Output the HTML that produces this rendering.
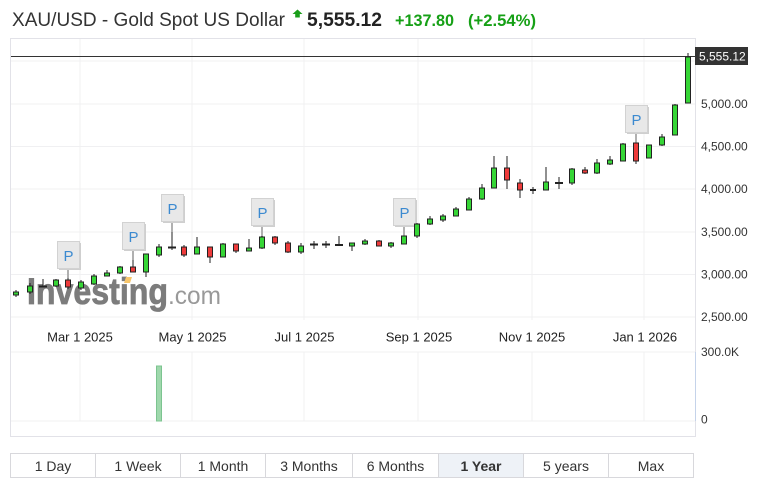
<!DOCTYPE html>
<html><head><meta charset="utf-8"><style>
html,body{margin:0;padding:0;background:#fff;}
svg{display:block;font-family:"Liberation Sans",Arial,sans-serif;}
.w{stroke:#222;stroke-width:1;}
.g{fill:#36d636;stroke:#222;stroke-width:1;}
.r{fill:#ee3b3b;stroke:#222;stroke-width:1;}
.k{stroke:#222;stroke-width:1.6;}
.grid{stroke:#f0f0f2;stroke-width:1;}
.ax{font-size:12px;fill:#333;}
.xl{font-size:13px;fill:#222;}
.pb{fill:#e8e8e8;stroke:#d2d2d2;stroke-width:1;}
.ps{fill:#cfcfcf;}
.pt{font-size:15px;fill:#3c8ad0;text-anchor:middle;}
.st{stroke:#b0b0b0;stroke-width:2;}
.bt{font-size:14px;fill:#333;text-anchor:middle;}
</style></head><body>
<svg width="772" height="489" viewBox="0 0 772 489" xmlns="http://www.w3.org/2000/svg">
<rect x="0" y="0" width="772" height="489" fill="#fff"/>
<!-- header -->
<text x="12" y="26" font-size="19" fill="#333" textLength="273" lengthAdjust="spacingAndGlyphs">XAU/USD - Gold Spot US Dollar</text>
<polygon points="297.5,9.5 302.5,14 299.8,14 299.8,17.5 295.2,17.5 295.2,14 292.5,14" fill="#1a9e1a"/>
<text x="307" y="26" font-size="19" font-weight="bold" fill="#222" textLength="75" lengthAdjust="spacingAndGlyphs">5,555.12</text>
<text x="395" y="26" font-size="17" font-weight="bold" fill="#16a016" textLength="59" lengthAdjust="spacingAndGlyphs">+137.80</text>
<text x="468" y="26" font-size="17" font-weight="bold" fill="#16a016" textLength="68" lengthAdjust="spacingAndGlyphs">(+2.54%)</text>

<!-- grid price -->
<g class="grid" shape-rendering="crispEdges">
<line x1="11" y1="61" x2="695" y2="61"/>
<line x1="11" y1="104" x2="695" y2="104"/>
<line x1="11" y1="146.5" x2="695" y2="146.5"/>
<line x1="11" y1="189" x2="695" y2="189"/>
<line x1="11" y1="232" x2="695" y2="232"/>
<line x1="11" y1="274.5" x2="695" y2="274.5"/>
<line x1="11" y1="317" x2="695" y2="317"/>
<line x1="80" y1="39" x2="80" y2="320"/>
<line x1="192" y1="39" x2="192" y2="320"/>
<line x1="304" y1="39" x2="304" y2="320"/>
<line x1="418" y1="39" x2="418" y2="320"/>
<line x1="532" y1="39" x2="532" y2="320"/>
<line x1="644" y1="39" x2="644" y2="320"/>
<!-- volume grid -->
<line x1="11" y1="352" x2="695" y2="352"/>
<line x1="11" y1="421" x2="695" y2="421"/>
<line x1="80" y1="352" x2="80" y2="421"/>
<line x1="192" y1="352" x2="192" y2="421"/>
<line x1="304" y1="352" x2="304" y2="421"/>
<line x1="418" y1="352" x2="418" y2="421"/>
<line x1="532" y1="352" x2="532" y2="421"/>
<line x1="644" y1="352" x2="644" y2="421"/>
</g>
<!-- frame -->
<rect x="10.5" y="38.5" width="685" height="398" fill="none" stroke="#e2e2e8" stroke-width="1"/>
<line x1="695.5" y1="352" x2="695.5" y2="421" stroke="#c5d3ea" stroke-width="1"/>

<!-- watermark -->
<text x="27" y="304" font-size="37" font-weight="bold" fill="#7c7c7c" stroke="#7c7c7c" stroke-width="0.8" textLength="141" lengthAdjust="spacingAndGlyphs">Investing</text>
<text x="168" y="304" font-size="25" fill="#999" textLength="53" lengthAdjust="spacingAndGlyphs">.com</text>
<polygon points="126,277 132,277 130,283 124,283" fill="#f7c66b"/>

<!-- current price line -->
<line x1="11" y1="56.5" x2="695" y2="56.5" stroke="#333" stroke-width="1"/>

<!-- P markers -->
<g>
<line class="st" x1="68" y1="269" x2="68" y2="278"/>
<rect class="ps" x="59" y="243" width="22" height="27"/>
<rect class="pb" x="57.5" y="241.5" width="22" height="27"/>
<text class="pt" x="68.5" y="261">P</text>

<line class="st" x1="133" y1="250" x2="133" y2="260"/>
<rect class="ps" x="124" y="224" width="22" height="27"/>
<rect class="pb" x="122.5" y="222.5" width="22" height="27"/>
<text class="pt" x="133.5" y="242">P</text>

<line class="st" x1="172" y1="222" x2="172" y2="232"/>
<rect class="ps" x="163" y="196" width="22" height="27"/>
<rect class="pb" x="161.5" y="194.5" width="22" height="27"/>
<text class="pt" x="172.5" y="214">P</text>

<line class="st" x1="262" y1="226" x2="262" y2="237"/>
<rect class="ps" x="253" y="200" width="22" height="27"/>
<rect class="pb" x="251.5" y="198.5" width="22" height="27"/>
<text class="pt" x="262.5" y="218">P</text>

<line class="st" x1="404" y1="226" x2="404" y2="236"/>
<rect class="ps" x="395" y="200" width="22" height="27"/>
<rect class="pb" x="393.5" y="198.5" width="22" height="27"/>
<text class="pt" x="404.5" y="218">P</text>

<line class="st" x1="636" y1="132" x2="636" y2="143"/>
<rect class="ps" x="627" y="107" width="22" height="27"/>
<rect class="pb" x="625.5" y="105.5" width="22" height="27"/>
<text class="pt" x="636.5" y="125">P</text>
</g>

<!-- candles -->
<g shape-rendering="crispEdges">
<line class="w" x1="16" y1="290" x2="16" y2="297"/><rect class="g" x="13.5" y="292" width="5" height="3"/>
<line class="w" x1="30" y1="283" x2="30" y2="294"/><rect class="g" x="27.5" y="286" width="5" height="6"/>
<line class="w" x1="43" y1="279" x2="43" y2="287"/><line class="k" x1="39" y1="286.5" x2="47" y2="286.5"/>
<line class="w" x1="56" y1="279" x2="56" y2="287"/><rect class="g" x="53.5" y="280" width="5" height="6"/>
<line class="w" x1="68" y1="278" x2="68" y2="289"/><rect class="r" x="65.5" y="280" width="5" height="7"/>
<line class="w" x1="81" y1="280" x2="81" y2="290"/><rect class="g" x="78.5" y="282" width="5" height="6"/>
<line class="w" x1="94" y1="274" x2="94" y2="285"/><rect class="g" x="91.5" y="276" width="5" height="8"/>
<line class="w" x1="107" y1="270" x2="107" y2="276"/><rect class="g" x="104.5" y="273" width="5" height="3"/>
<line class="w" x1="120" y1="266" x2="120" y2="274"/><rect class="g" x="117.5" y="267" width="5" height="6"/>
<line class="w" x1="133" y1="260" x2="133" y2="272"/><rect class="r" x="130.5" y="267" width="5" height="5"/>
<line class="w" x1="146" y1="254" x2="146" y2="277"/><rect class="g" x="143.5" y="254" width="5" height="18"/>
<line class="w" x1="159" y1="244" x2="159" y2="257"/><rect class="g" x="156.5" y="247" width="5" height="8"/>
<line class="w" x1="172" y1="232" x2="172" y2="250"/><line class="k" x1="168" y1="247.5" x2="176" y2="247.5"/>
<line class="w" x1="184" y1="245" x2="184" y2="257"/><rect class="r" x="181.5" y="247" width="5" height="8"/>
<line class="w" x1="197" y1="237" x2="197" y2="254"/><rect class="g" x="194.5" y="247" width="5" height="7"/>
<line class="w" x1="210" y1="247" x2="210" y2="263"/><rect class="r" x="207.5" y="247" width="5" height="10"/>
<line class="w" x1="223" y1="243" x2="223" y2="257"/><rect class="g" x="220.5" y="244" width="5" height="13"/>
<line class="w" x1="236" y1="244" x2="236" y2="253"/><rect class="r" x="233.5" y="244" width="5" height="7"/>
<line class="w" x1="249" y1="239" x2="249" y2="251"/><rect class="g" x="246.5" y="248" width="5" height="3"/>
<line class="w" x1="262" y1="236" x2="262" y2="249"/><rect class="g" x="259.5" y="237" width="5" height="11"/>
<line class="w" x1="275" y1="236" x2="275" y2="245"/><rect class="r" x="272.5" y="237" width="5" height="6"/>
<line class="w" x1="288" y1="241" x2="288" y2="253"/><rect class="r" x="285.5" y="243" width="5" height="9"/>
<line class="w" x1="301" y1="243" x2="301" y2="254"/><rect class="g" x="298.5" y="246" width="5" height="6"/>
<line class="w" x1="314" y1="241" x2="314" y2="249"/><line class="k" x1="310" y1="244.5" x2="318" y2="244.5"/>
<line class="w" x1="326" y1="241" x2="326" y2="248"/><line class="k" x1="322" y1="244.5" x2="330" y2="244.5"/>
<line class="w" x1="339" y1="236" x2="339" y2="246"/><line class="k" x1="335" y1="245" x2="343" y2="245"/>
<line class="w" x1="352" y1="243" x2="352" y2="251"/><rect class="g" x="349.5" y="243" width="5" height="3"/>
<line class="w" x1="365" y1="239" x2="365" y2="245"/><rect class="g" x="362.5" y="241" width="5" height="3"/>
<line class="w" x1="379" y1="240" x2="379" y2="246"/><rect class="r" x="376.5" y="241" width="5" height="5"/>
<line class="w" x1="391" y1="242" x2="391" y2="248"/><rect class="g" x="388.5" y="243" width="5" height="3"/>
<line class="w" x1="404" y1="236" x2="404" y2="244"/><rect class="g" x="401.5" y="236" width="5" height="8"/>
<line class="w" x1="417" y1="223" x2="417" y2="238"/><rect class="g" x="414.5" y="224" width="5" height="12"/>
<line class="w" x1="430" y1="216" x2="430" y2="225"/><rect class="g" x="427.5" y="219" width="5" height="5"/>
<line class="w" x1="443" y1="214" x2="443" y2="222"/><rect class="g" x="440.5" y="216" width="5" height="4"/>
<line class="w" x1="456" y1="207" x2="456" y2="216"/><rect class="g" x="453.5" y="209" width="5" height="7"/>
<line class="w" x1="469" y1="197" x2="469" y2="210"/><rect class="g" x="466.5" y="199" width="5" height="11"/>
<line class="w" x1="482" y1="184" x2="482" y2="200"/><rect class="g" x="479.5" y="188" width="5" height="11"/>
<line class="w" x1="494" y1="156" x2="494" y2="188"/><rect class="g" x="491.5" y="168" width="5" height="20"/>
<line class="w" x1="507" y1="156" x2="507" y2="189"/><rect class="r" x="504.5" y="168" width="5" height="12"/>
<line class="w" x1="520" y1="179" x2="520" y2="198"/><rect class="r" x="517.5" y="183" width="5" height="7"/>
<line class="w" x1="533" y1="187" x2="533" y2="194"/><line class="k" x1="530" y1="190" x2="536" y2="190"/>
<line class="w" x1="546" y1="167" x2="546" y2="190"/><rect class="g" x="543.5" y="182" width="5" height="8"/>
<line class="w" x1="559" y1="177" x2="559" y2="189"/><line class="k" x1="555" y1="183" x2="563" y2="183"/>
<line class="w" x1="572" y1="168" x2="572" y2="185"/><rect class="g" x="569.5" y="169" width="5" height="14"/>
<line class="w" x1="585" y1="167" x2="585" y2="174"/><rect class="r" x="582.5" y="170" width="5" height="3"/>
<line class="w" x1="597" y1="159" x2="597" y2="174"/><rect class="g" x="594.5" y="163" width="5" height="10"/>
<line class="w" x1="610" y1="156" x2="610" y2="165"/><rect class="g" x="607.5" y="160" width="5" height="4"/>
<line class="w" x1="623" y1="143" x2="623" y2="161"/><rect class="g" x="620.5" y="144" width="5" height="17"/>
<line class="w" x1="636" y1="143" x2="636" y2="164"/><rect class="r" x="633.5" y="143" width="5" height="18"/>
<line class="w" x1="649" y1="145" x2="649" y2="158"/><rect class="g" x="646.5" y="145" width="5" height="13"/>
<line class="w" x1="662" y1="134" x2="662" y2="146"/><rect class="g" x="659.5" y="137" width="5" height="8"/>
<line class="w" x1="675" y1="104" x2="675" y2="135"/><rect class="g" x="672.5" y="105" width="5" height="30"/>
<line class="w" x1="688" y1="53" x2="688" y2="103"/><rect class="g" x="685.5" y="57" width="5" height="46"/>
</g>

<!-- volume bar -->
<rect x="156.5" y="366" width="5" height="55" fill="#9fd8ac" stroke="#7cc490" stroke-width="1"/>

<!-- right axis labels -->
<rect x="695" y="47" width="53" height="18" fill="#333"/>
<text x="699" y="60.5" font-size="12" fill="#fff">5,555.12</text>
<text class="ax" x="701" y="108">5,000.00</text>
<text class="ax" x="701" y="150.5">4,500.00</text>
<text class="ax" x="701" y="193">4,000.00</text>
<text class="ax" x="701" y="236">3,500.00</text>
<text class="ax" x="701" y="278.5">3,000.00</text>
<text class="ax" x="701" y="321">2,500.00</text>
<text class="ax" x="701" y="356">300.0K</text>
<text class="ax" x="701" y="423.5">0</text>

<!-- x axis labels -->
<g class="xl" text-anchor="middle">
<text x="80" y="341.5">Mar 1 2025</text>
<text x="192.5" y="341.5">May 1 2025</text>
<text x="304.5" y="341.5">Jul 1 2025</text>
<text x="419" y="341.5">Sep 1 2025</text>
<text x="532" y="341.5">Nov 1 2025</text>
<text x="645" y="341.5">Jan 1 2026</text>
</g>

<!-- buttons -->
<rect x="438.5" y="453.5" width="85" height="24" fill="#eef2f7"/>
<rect x="10.5" y="453.5" width="683" height="24" fill="none" stroke="#d8d8dc" stroke-width="1"/>
<g stroke="#d8d8dc" stroke-width="1">
<line x1="95.5" y1="453.5" x2="95.5" y2="477.5"/>
<line x1="180.5" y1="453.5" x2="180.5" y2="477.5"/>
<line x1="265.5" y1="453.5" x2="265.5" y2="477.5"/>
<line x1="352.5" y1="453.5" x2="352.5" y2="477.5"/>
<line x1="438.5" y1="453.5" x2="438.5" y2="477.5"/>
<line x1="523.5" y1="453.5" x2="523.5" y2="477.5"/>
<line x1="608.5" y1="453.5" x2="608.5" y2="477.5"/>
</g>
<text class="bt" x="53" y="471">1 Day</text>
<text class="bt" x="138" y="471">1 Week</text>
<text class="bt" x="223" y="471">1 Month</text>
<text class="bt" x="309" y="471">3 Months</text>
<text class="bt" x="395.5" y="471">6 Months</text>
<text class="bt" x="481" y="471" font-weight="bold">1 Year</text>
<text class="bt" x="566" y="471">5 years</text>
<text class="bt" x="651" y="471">Max</text>
</svg>
</body></html>
